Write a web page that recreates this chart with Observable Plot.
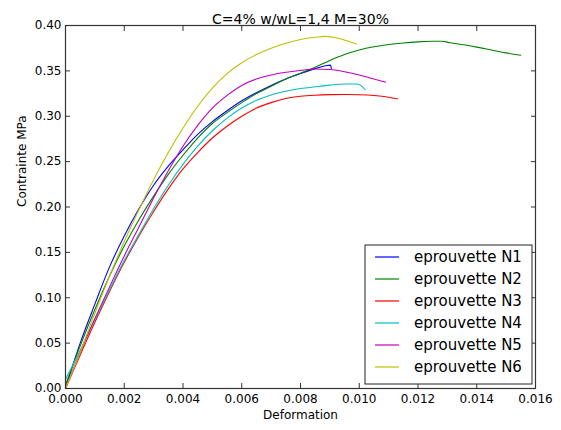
<!DOCTYPE html>
<html>
<head>
<meta charset="utf-8">
<script src="https://cdn.jsdelivr.net/npm/d3@7"></script>
<script src="https://cdn.jsdelivr.net/npm/@observablehq/plot@0.6"></script>
<style>
  html, body { margin: 0; padding: 0; background: #fff; }
  svg { font-family: "DejaVu Sans", sans-serif; }
</style>
</head>
<body>
<div id="chart"></div>
<script>
const seriesNames = ["eprouvette N1", "eprouvette N2", "eprouvette N3", "eprouvette N4", "eprouvette N5", "eprouvette N6"];
const seriesColors = ["#0000ff", "#008000", "#ff0000", "#00bfbf", "#bf00bf", "#bfbf00"];

const n1 = [[0,0],[0.0005,0.05],[0.001,0.093],[0.0015,0.134],[0.002,0.168],[0.0025,0.198],[0.003,0.224],[0.0035,0.245],[0.004,0.263],[0.0045,0.280],[0.005,0.294],[0.0055,0.306],[0.006,0.317],[0.0065,0.326],[0.007,0.334],[0.0075,0.341],[0.008,0.347],[0.0085,0.3525],[0.0089,0.356],[0.00902,0.3563],[0.00905,0.3525]];
const n2 = [[0,0.004],[0.0005,0.047],[0.001,0.087],[0.0015,0.124],[0.002,0.157],[0.0025,0.186],[0.003,0.212],[0.0035,0.236],[0.004,0.257],[0.0045,0.276],[0.005,0.292],[0.0055,0.304],[0.006,0.315],[0.0065,0.325],[0.007,0.333],[0.0075,0.341],[0.008,0.3475],[0.0085,0.354],[0.009,0.3615],[0.0095,0.368],[0.010,0.373],[0.0105,0.3765],[0.011,0.379],[0.0115,0.3808],[0.012,0.382],[0.0125,0.3826],[0.0128,0.3827],[0.0131,0.381],[0.0135,0.379],[0.014,0.3762],[0.0145,0.373],[0.015,0.3698],[0.0155,0.3673]];
const n3 = [[0,0],[0.0005,0.037],[0.001,0.073],[0.0015,0.107],[0.002,0.139],[0.0025,0.168],[0.003,0.195],[0.0035,0.220],[0.004,0.242],[0.0045,0.260],[0.005,0.276],[0.0055,0.289],[0.006,0.300],[0.0065,0.309],[0.007,0.315],[0.0075,0.3195],[0.008,0.322],[0.0085,0.3232],[0.009,0.3238],[0.0095,0.324],[0.010,0.3237],[0.0105,0.3228],[0.011,0.321],[0.0113,0.3192]];
const n4 = [[0,0.01],[0.0005,0.042],[0.001,0.076],[0.0015,0.109],[0.002,0.141],[0.0025,0.170],[0.003,0.198],[0.0035,0.224],[0.004,0.247],[0.0045,0.267],[0.005,0.284],[0.0055,0.298],[0.006,0.309],[0.0065,0.3175],[0.007,0.3235],[0.0075,0.3275],[0.008,0.3305],[0.0085,0.3325],[0.009,0.3343],[0.0095,0.3355],[0.0099,0.3355],[0.01005,0.334],[0.0102,0.3292]];
const n5 = [[0,0],[0.0005,0.040],[0.001,0.077],[0.0015,0.112],[0.002,0.146],[0.0025,0.178],[0.003,0.210],[0.0035,0.240],[0.004,0.267],[0.0045,0.290],[0.005,0.309],[0.0055,0.323],[0.006,0.334],[0.0065,0.341],[0.007,0.3455],[0.0075,0.3485],[0.008,0.3505],[0.0085,0.352],[0.009,0.3515],[0.0095,0.349],[0.010,0.3455],[0.0105,0.341],[0.0109,0.3375]];
const n6 = [[0,0],[0.0005,0.040],[0.001,0.083],[0.0015,0.124],[0.002,0.162],[0.0025,0.197],[0.003,0.230],[0.0035,0.260],[0.004,0.287],[0.0045,0.311],[0.005,0.331],[0.0055,0.347],[0.006,0.359],[0.0065,0.368],[0.007,0.375],[0.0075,0.3805],[0.008,0.3845],[0.0085,0.387],[0.0088,0.388],[0.0092,0.3865],[0.0096,0.383],[0.0099,0.3795]];

const xTicks = [0, 0.002, 0.004, 0.006, 0.008, 0.010, 0.012, 0.014, 0.016];
const yTicks = [0, 0.05, 0.10, 0.15, 0.20, 0.25, 0.30, 0.35, 0.40];

const allSeries = [n1, n2, n3, n4, n5, n6];
const rows = allSeries.flatMap((s, i) => s.map(([x, y]) => ({x, y, name: seriesNames[i]})));

const W = 561, H = 430;
const mL = 65, mR = 26, mT = 25, mB = 42;

const chart = Plot.plot({
  width: W, height: H,
  marginLeft: mL, marginRight: mR, marginTop: mT, marginBottom: mB,
  style: {fontFamily: "DejaVu Sans, sans-serif", fontSize: "12px", color: "#000", background: "#fff"},
  x: {domain: [0, 0.016], label: null},
  y: {domain: [0, 0.40], label: null},
  color: {domain: seriesNames, range: seriesColors},
  marks: [
    Plot.line(rows, {x: "x", y: "y", z: "name", stroke: "name", strokeWidth: 1.1, curve: "monotone-x"}),
    Plot.axisX(xTicks, {anchor: "bottom", tickSize: -5, tickPadding: 11, tickFormat: d3.format(".3f"), fontSize: 12, label: null, stroke: "#333"}),
    Plot.axisX(xTicks, {anchor: "top", tickSize: -5, tickFormat: () => "", label: null, stroke: "#333"}),
    Plot.axisY(yTicks, {anchor: "left", tickSize: -5, tickPadding: 9, tickFormat: d3.format(".2f"), fontSize: 12, label: null, stroke: "#333"}),
    Plot.axisY(yTicks, {anchor: "right", tickSize: -5, tickFormat: () => "", label: null, stroke: "#333"}),
    Plot.frame({stroke: "#333", strokeWidth: 1.2}),
    Plot.text(["C=4% w/wL=1,4 M=30%"], {frameAnchor: "top", dy: -11, fontSize: 14, fill: "#000"}),
    Plot.text(["Deformation"], {frameAnchor: "bottom", dy: 30, fontSize: 12, fill: "#000"}),
    Plot.text(["Contrainte MPa"], {frameAnchor: "left", dx: -43, rotate: -90, fontSize: 12, fill: "#000"})
  ]
});

// legend (matplotlib style, inside the plot area, lower right)
const svg = d3.select(chart);
const lg = svg.append("g").attr("transform", "translate(365,245)");
lg.append("rect").attr("x", 0).attr("y", 0).attr("width", 167).attr("height", 139)
  .attr("fill", "#fff").attr("stroke", "#222").attr("stroke-width", 1);
seriesNames.forEach((name, i) => {
  const cy = 12 + i * 22;
  lg.append("line").attr("x1", 10).attr("x2", 34).attr("y1", cy).attr("y2", cy)
    .attr("stroke", seriesColors[i]).attr("stroke-width", 1.2);
  lg.append("text").attr("x", 49).attr("y", cy).attr("dy", "0.36em")
    .attr("text-anchor", "start")
    .attr("font-size", 15).attr("fill", "#000").text(name);
});

document.getElementById("chart").appendChild(chart);
</script>
</body>
</html>
